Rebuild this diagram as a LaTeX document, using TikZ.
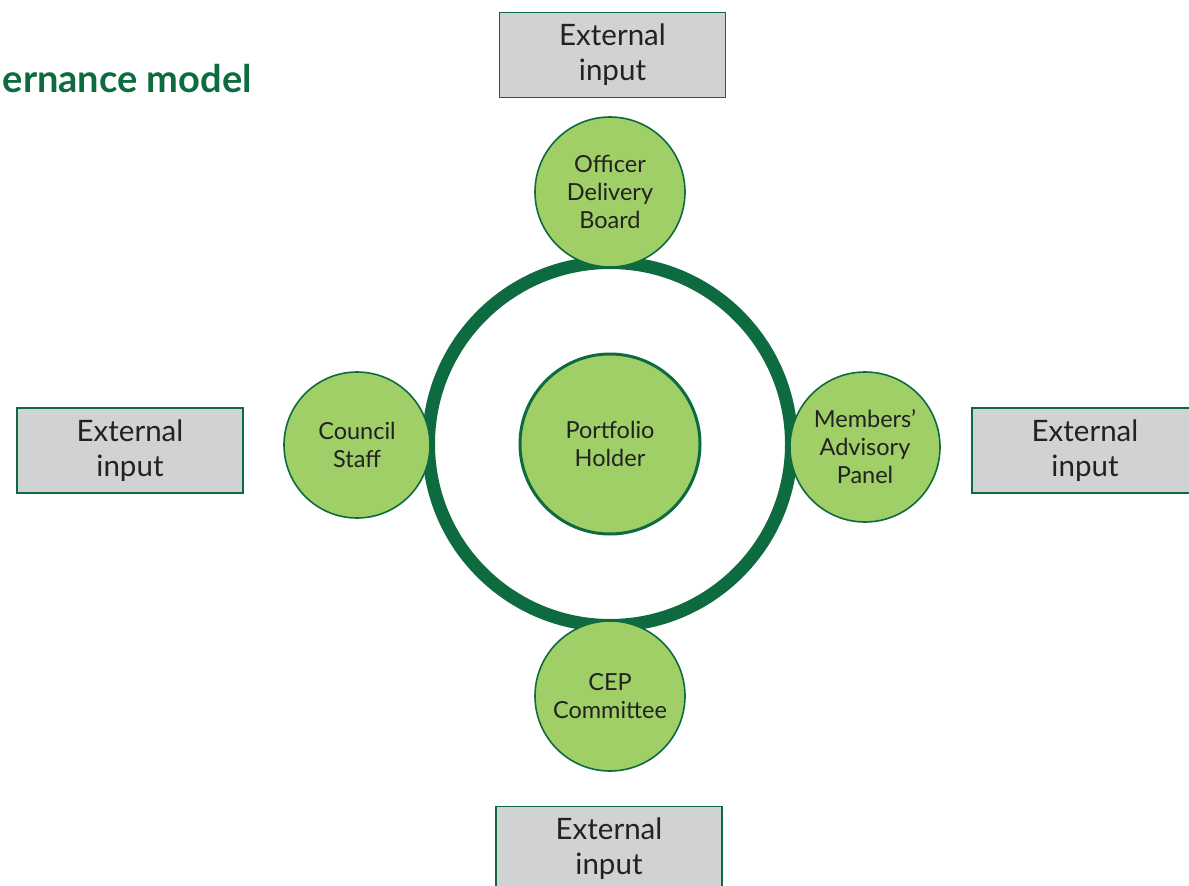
\documentclass[tikz,border=0pt]{standalone}
\usepackage{fontspec}
\setmainfont{Lato}
\definecolor{dkgreen}{HTML}{0E6B3F}
\definecolor{ltgreen}{HTML}{A0CE67}
\definecolor{boxgray}{HTML}{D1D2D4}
\definecolor{txt}{HTML}{222222}
\tikzset{
  extbox/.style={draw=dkgreen, line width=1.6pt, fill=boxgray, minimum width=226pt, minimum height=85pt, inner sep=0pt, align=center, text=txt, font=\fontsize{29.5}{35}\selectfont},
  member/.style={circle, draw=dkgreen, line width=1.6pt, fill=ltgreen, minimum size=150pt, inner sep=0pt, align=center, text=txt, font=\fontsize{23.5}{28}\selectfont},
  ring/.style={circle, draw=dkgreen, line width=13pt, minimum size=363pt, inner sep=0pt}
}
\begin{document}
\begin{tikzpicture}[x=1pt,y=-1pt]
\useasboundingbox (0,0) rectangle (1189,886);
\node[anchor=base east, text=dkgreen, font=\bfseries\fontsize{38}{44}\selectfont, inner sep=0pt] (title) at (252,92) {ernance model};
\node[ring] (ring) at (610,444) {};
\node[member, draw=dkgreen, line width=3pt, minimum size=180pt] (ph) at (610,444) {Portfolio\\Holder};
\node[member] (odb) at (610,192) {Officer\\Delivery\\Board};
\node[member, minimum size=146pt] (cs) at (357,445) {Council\\Staff};
\node[member] (map) at (865,447) {Members'\\Advisory\\Panel};
\node[member] (cep) at (610,696) {CEP\\Committee};
\node[extbox] (etop) at (612.5,55) {External\\input};
\node[extbox] (eleft) at (130,450.5) {External\\input};
\node[extbox] (eright) at (1085,450.5) {External\\input};
\node[extbox] (ebot) at (609,849) {External\\input};
\end{tikzpicture}
\end{document}
